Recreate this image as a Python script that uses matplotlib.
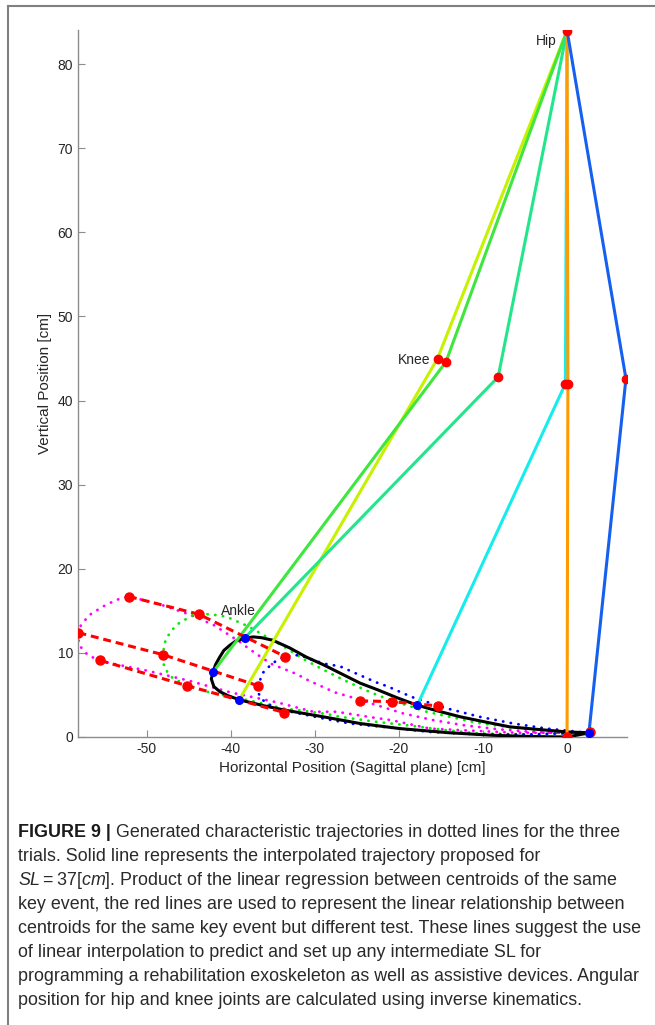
"""Trayectorias características de tobillo y posiciones de cadera/rodilla (Figura 9)."""

import matplotlib.pyplot as plt
from matplotlib.lines import Line2D

# --- Datos ---
hip = (0.0, 84.0)
knee_x = [-15.4, -14.4, -8.2, -0.2, 0.1, 7.0]
knee_y = [45.0, 44.6, 42.8, 42.0, 42.0, 42.6]
ankle_x = [-39.0, -42.1, -38.3, -17.8, 0.0, 2.6]
ankle_y = [4.4, 7.7, 11.8, 3.8, 0.0, 0.5]
leg_colors = ["#c6f200", "#3ee63e", "#22e68a", "#17ecec", "#ff9a00", "#1560f0"]
ankle_colors = ["blue", "blue", "blue", "blue", "red", "blue"]

# trayectoria prueba 1 (magenta)
mag_x = [2.5, -1.2, -4.0, -8.0, -12.3, -15.9, -19.5, -22.7, -25.2, -27.6, -30.7,
         -32.2, -35.2, -37.7, -38.9, -42.0, -45.0, -48.5, -52.1, -53.6, -55.2,
         -56.8, -57.8, -58.2, -58.0, -57.0, -55.4, -50.0, -45.0, -40.0, -34.4,
         -30.2, -27.4, -23.0, -20.9, -16.3, -12.4, -6.0, 2.5]
mag_y = [0.5, 0.5, 0.6, 0.9, 1.4, 2.0, 2.8, 3.8, 4.6, 5.3, 6.7,
         7.5, 8.7, 10.4, 11.3, 13.3, 14.6, 15.8, 16.7, 16.3, 15.5,
         14.5, 13.3, 12.3, 10.9, 9.75, 9.0, 7.9, 6.7, 5.3, 4.1,
         3.0, 3.0, 2.3, 2.0, 1.0, 0.8, 0.5, 0.5]

# trayectoria prueba 2 (verde)
grn_x = [2.5, 0.0, -3.2, -7.2, -10.8, -13.5, -16.7, -18.5, -21.1, -23.8, -26.4,
         -29.0, -31.4, -33.6, -35.7, -38.0, -40.5, -42.5, -43.8, -44.5, -46.5,
         -47.7, -48.1, -47.9, -46.9, -45.3, -42.9, -37.1, -33.8, -32.0, -28.4,
         -27.0, -22.7, -19.1, -14.3, -10.4, -4.0, 2.5]
grn_y = [0.5, 0.6, 0.8, 1.2, 1.7, 2.3, 3.0, 3.6, 4.4, 5.5, 6.7,
         8.0, 9.3, 10.7, 11.9, 13.2, 14.3, 14.6, 14.6, 14.5, 13.3,
         11.7, 9.8, 8.2, 7.0, 6.2, 5.4, 4.2, 3.4, 3.2, 2.7,
         2.4, 1.8, 1.4, 0.8, 0.4, 0.3, 0.5]

# trayectoria prueba 3 (azul)
blu_x = [2.5, 1.5, -2.4, -6.4, -10.4, -14.3, -18.3, -19.5, -21.3, -22.7, -25.2,
         -27.0, -28.8, -30.4, -31.8, -33.5, -35.0, -36.2, -36.7, -36.7, -36.2,
         -35.0, -33.8, -29.0, -25.8, -21.9, -16.3, -10.4, -4.4, 1.5, 2.5]
blu_y = [0.5, 0.6, 1.0, 1.6, 2.4, 3.4, 4.7, 5.2, 6.0, 6.5, 7.6,
         8.4, 8.7, 9.2, 9.75, 9.6, 8.8, 7.6, 6.2, 5.2, 4.4,
         3.6, 3.2, 2.2, 1.6, 1.2, 0.6, 0.3, 0.3, 0.5, 0.5]

# trayectoria interpolada SL = 37 cm (negra)
blk_x = [2.7, 0.0, -3.5, -6.8, -9.8, -12.7, -15.4, -17.9, -20.3, -22.5, -24.6,
         -27.0, -29.0, -31.0, -33.0, -35.0, -36.3, -37.3, -38.5, -39.4, -40.1,
         -40.8, -41.3, -41.8, -42.1, -42.3, -42.0, -41.3, -40.3, -38.9, -36.0,
         -33.6, -29.0, -24.6, -19.9, -14.0, -8.8, -4.0, 0.0, 2.7]
blk_y = [0.5, 0.6, 0.9, 1.2, 1.8, 2.4, 3.1, 3.8, 4.7, 5.6, 6.4,
         7.6, 8.6, 9.5, 10.6, 11.5, 11.8, 11.9, 11.7, 11.4, 10.9,
         10.3, 9.5, 8.6, 7.7, 6.9, 6.0, 5.4, 4.9, 4.4, 3.7,
         3.2, 2.4, 1.6, 1.0, 0.5, 0.2, 0.05, 0.0, 0.5]

# centroides por evento clave (líneas rojas)
event_lines = [
    ([-52.1, -43.8, -33.5], [16.7, 14.6, 9.55]),
    ([-58.1, -48.1, -36.75], [12.4, 9.8, 6.1]),
    ([-55.5, -45.2, -33.6], [9.1, 6.1, 2.9]),
    ([-24.6, -20.8, -15.4], [4.3, 4.2, 3.7]),
]
end_x = [0.0, 2.7]
end_y = [0.0, 0.55]

FONT = ["Liberation Sans", "DejaVu Sans"]
plt.rcParams["font.family"] = FONT
plt.rcParams["axes.unicode_minus"] = False
plt.rcParams["mathtext.fontset"] = "custom"
plt.rcParams["mathtext.rm"] = "Liberation Sans"
plt.rcParams["mathtext.it"] = "Liberation Sans:italic"

fig = plt.figure(figsize=(6.55, 10.25), dpi=100)
ax = fig.add_axes([0.1191, 0.2810, 0.8382, 0.6898])

# trayectorias punteadas
for xs, ys, c in [(mag_x, mag_y, "#ff00ff"), (grn_x, grn_y, "#00ee00"), (blu_x, blu_y, "#0000ff")]:
    ax.plot(xs, ys, color=c, lw=2.0, linestyle=(0, (0.1, 2.7)),
            dash_capstyle="round", zorder=2)

ax.plot(blk_x, blk_y, color="black", lw=2.2, zorder=3)

# líneas de regresión entre centroides
for xs, ys in event_lines:
    ax.plot(xs, ys, color="red", lw=2.2, dashes=(2.6, 1.6), marker="o",
            markersize=6.5, zorder=5)
ax.plot(end_x, end_y, "o", color="red", markersize=6.5, zorder=5)

# piernas: cadera - rodilla - tobillo
for i in range(len(knee_x)):
    ax.plot([hip[0], knee_x[i], ankle_x[i]], [hip[1], knee_y[i], ankle_y[i]],
            color=leg_colors[i], lw=2.2, zorder=4)
ax.plot(knee_x, knee_y, "o", color="red", markersize=6, zorder=6)
ax.plot([hip[0]], [hip[1]], "o", color="red", markersize=6, zorder=6)
for i in range(len(ankle_x)):
    ax.plot(ankle_x[i], ankle_y[i], "o", color=ankle_colors[i], markersize=5.5, zorder=6)

ax.text(-1.2, 82.8, "Hip", ha="right", va="center", fontsize=10, color="#262626")
ax.text(-16.3, 44.8, "Knee", ha="right", va="center", fontsize=10, color="#262626")
ax.text(-41.1, 15.0, "Ankle", ha="left", va="center", fontsize=10, color="#262626")

ax.set_xlim(-58.15, 7.13)
ax.set_ylim(0, 84.07)
ax.set_xticks([-50, -40, -30, -20, -10, 0])
ax.set_yticks([0, 10, 20, 30, 40, 50, 60, 70, 80])
ax.spines["top"].set_visible(False)
ax.spines["right"].set_visible(False)
for s in ["left", "bottom"]:
    ax.spines[s].set_color("#8c8c8c")
    ax.spines[s].set_linewidth(1.0)
ax.tick_params(direction="in", length=5, color="#8c8c8c", labelsize=10,
               labelcolor="#262626")
ax.set_xlabel("Horizontal Position (Sagittal plane) [cm]", fontsize=11, color="#262626")
ax.set_ylabel("Vertical Position [cm]", fontsize=11, color="#262626")

# marco de la página
fig.add_artist(Line2D([8 / 655, 8 / 655], [0, 1 - 6 / 1025], color="#808080", lw=1.5))
fig.add_artist(Line2D([8 / 655, 1], [1 - 6 / 1025, 1 - 6 / 1025], color="#808080", lw=1.5))

# pie de figura
caption = [
    " Generated characteristic trajectories in dotted lines for the three",
    "trials. Solid line represents the interpolated trajectory proposed for",
    "$SL = 37[cm]$. Product of the linear regression between centroids of the same",
    "key event, the red lines are used to represent the linear relationship between",
    "centroids for the same key event but different test. These lines suggest the use",
    "of linear interpolation to predict and set up any intermediate SL for",
    "programming a rehabilitation exoskeleton as well as assistive devices. Angular",
    "position for hip and knee joints are calculated using inverse kinematics.",
]
x0 = 18 / 655
cap_size = 12.85
bold = fig.text(x0, 1 - 837 / 1025, "FIGURE 9 |", fontsize=cap_size, fontweight="bold",
                color="#1a1a1a", va="baseline")
fig.canvas.draw()
bb = bold.get_window_extent().transformed(fig.transFigure.inverted())
for k, line in enumerate(caption):
    y = 1 - (837 + 24 * k) / 1025
    x = bb.x1 if k == 0 else x0
    fig.text(x, y, line, fontsize=cap_size, color="#2a2a2a", va="baseline")

fig.savefig("out.png", dpi=100)
